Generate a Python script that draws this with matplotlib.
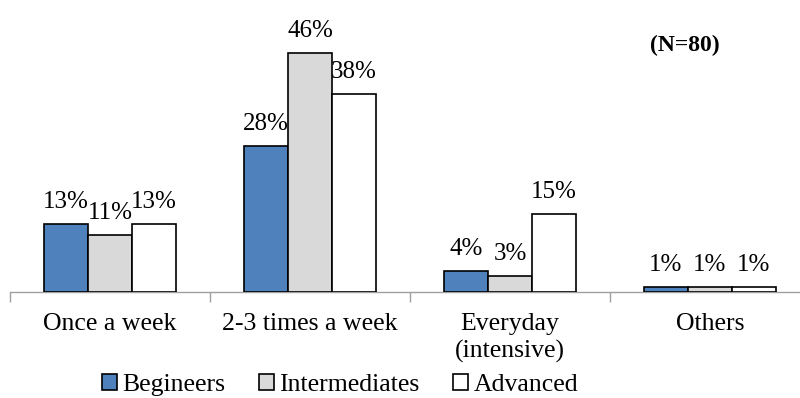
import numpy as np
import matplotlib.pyplot as plt

plt.rcParams['font.family'] = ['Liberation Serif', 'DejaVu Serif']

categories = ["Once a week", "2-3 times a week", "Everyday\n(intensive)", "Others"]
series = ["Begineers", "Intermediates", "Advanced"]
beginners = [13, 28, 4, 1]
intermediates = [11, 46, 3, 1]
advanced = [13, 38, 15, 1]
colors = ["#4F81BD", "#D9D9D9", "#FFFFFF"]

fig = plt.figure(figsize=(8, 3.98), dpi=100)
ax = fig.add_axes([0.0125, 0.2663, 1.0, 0.6533])

x = np.arange(len(categories))
w = 0.22
handles = []
for i, (vals, col, name) in enumerate(zip([beginners, intermediates, advanced], colors, series)):
    pos = x + (i - 1) * w
    b = ax.bar(pos, vals, w, color=col, edgecolor="black", linewidth=1.2,
               label=name, zorder=3)
    handles.append(b)
    for px, v in zip(pos, vals):
        ax.annotate(f"{v}%", (px, v), xytext=(0, 11.5), textcoords="offset points",
                    ha="center", va="baseline", fontsize=18, zorder=2,
                    annotation_clip=False)

ax.set_xlim(-0.5, 3.5)
ax.set_ylim(0, 50)
ax.set_yticks([])
ax.set_xticks(np.arange(-0.5, 4.0, 1.0), minor=False)
ax.set_xticklabels([])
ax.set_xticks(x, minor=True)
ax.set_xticklabels(categories, minor=True, fontsize=18.5, linespacing=1.3)
ax.tick_params(axis="x", which="major", length=7, color="#A0A0A0", width=1)
ax.tick_params(axis="x", which="minor", length=0, pad=15)
for s in ["top", "right", "left"]:
    ax.spines[s].set_visible(False)
ax.spines["bottom"].set_color("#A0A0A0")
ax.spines["bottom"].set_linewidth(1)

fig.text(0.856, 0.885, "(N=80)", fontsize=17, fontweight="bold", ha="center", va="center")

fig.legend(handles=handles, labels=series, loc="center", bbox_to_anchor=(0.425, 0.032),
           ncol=3, frameon=False, fontsize=18.5, handlelength=0.6, handleheight=0.6,
           handletextpad=0.2, columnspacing=1.3, borderaxespad=0)

fig.savefig("out.png", dpi=100)
